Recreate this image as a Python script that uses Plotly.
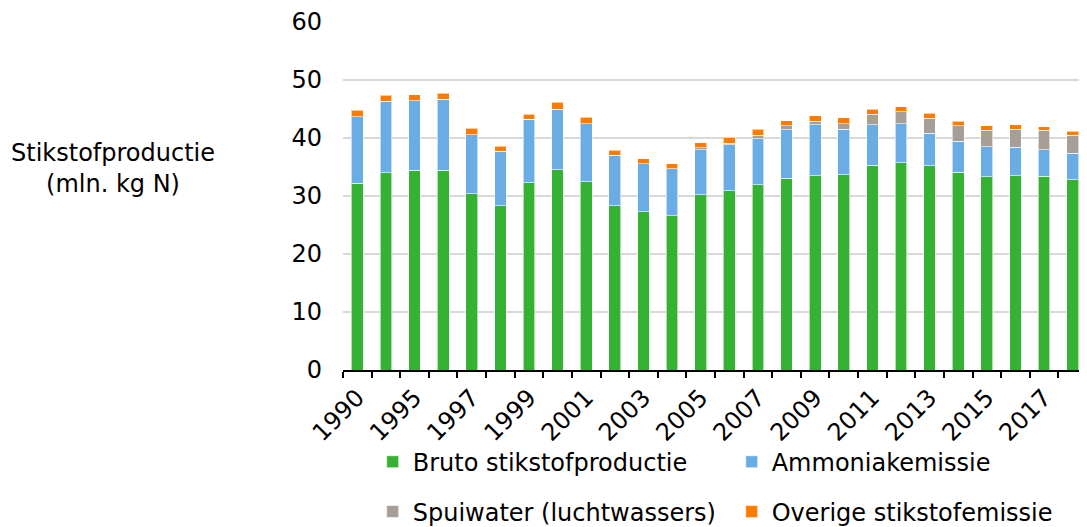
import plotly.graph_objects as go

years = ["1990", "1994", "1995", "1996", "1997", "1998", "1999", "2000", "2001", "2002",
         "2003", "2004", "2005", "2006", "2007", "2008", "2009", "2010", "2011", "2012",
         "2013", "2014", "2015", "2016", "2017", "2018"]
tick_labels = ["1990", "", "1995", "", "1997", "", "1999", "", "2001", "", "2003", "",
               "2005", "", "2007", "", "2009", "", "2011", "", "2013", "", "2015", "",
               "2017", ""]

bruto = [32.2, 34.0, 34.4, 34.4, 30.4, 28.3, 32.3, 34.5, 32.5, 28.3,
         27.3, 26.6, 30.2, 30.9, 31.9, 33.1, 33.5, 33.7, 35.3, 35.7,
         35.2, 34.1, 33.3, 33.5, 33.4, 32.8]
ammoniak = [11.5, 12.3, 12.0, 12.3, 10.2, 9.4, 10.9, 10.5, 10.0, 8.7,
            8.3, 8.1, 7.8, 7.9, 8.0, 8.3, 8.8, 7.8, 7.0, 6.8,
            5.6, 5.3, 5.2, 4.9, 4.6, 4.6]
spuiwater = [0, 0, 0, 0, 0, 0, 0, 0, 0, 0,
             0, 0, 0.3, 0.3, 0.6, 0.7, 0.6, 1.0, 1.8, 2.0,
             2.6, 2.7, 2.8, 3.1, 3.3, 3.1]
overig = [1.1, 1.1, 1.1, 1.0, 1.1, 0.9, 0.9, 1.2, 1.1, 0.9,
          0.8, 0.9, 0.9, 1.0, 1.0, 0.9, 0.9, 1.0, 0.9, 0.9,
          0.9, 0.8, 0.8, 0.8, 0.6, 0.7]

series = [
    ("Bruto stikstofproductie", bruto, "#35b234", "legend"),
    ("Ammoniakemissie", ammoniak, "#6aade4", "legend"),
    ("Spuiwater (luchtwassers)", spuiwater, "#a69e97", "legend2"),
    ("Overige stikstofemissie", overig, "#ff7b00", "legend2"),
]

FONT = "Verdana, DejaVu Sans, sans-serif"
FS = 24

fig = go.Figure()
for name, vals, color, lg in series:
    fig.add_trace(go.Bar(
        x=years, y=vals, name=name, legend=lg,
        marker=dict(color=color, line=dict(color="rgba(255,255,255,0.6)", width=1)),
    ))

legend_common = dict(orientation="h", xref="container", yref="container",
                     x=0.338, xanchor="left", yanchor="middle",
                     entrywidth=314, entrywidthmode="pixels",
                     bgcolor="rgba(0,0,0,0)",
                     font=dict(size=FS), itemwidth=30, traceorder="normal")

fig.update_layout(
    width=1079, height=519,
    barmode="stack",
    bargap=0.59,
    plot_bgcolor="white",
    paper_bgcolor="white",
    margin=dict(l=335, r=0, t=14, b=157, autoexpand=False),
    font=dict(family=FONT, size=FS, color="#000000"),
    legend=dict(y=0.125, **legend_common),
    legend2=dict(y=0.029, **legend_common),
    annotations=[dict(
        text="Stikstofproductie<br>(mln. kg N)",
        xref="paper", yref="paper", x=-0.309, y=0.58,
        xanchor="center", yanchor="middle", showarrow=False,
        font=dict(size=FS, family=FONT),
    )],
)

fig.update_xaxes(
    type="category",
    tickmode="array", tickvals=years, ticktext=tick_labels,
    tickangle=-45,
    tickson="boundaries",
    ticks="outside", ticklen=6, tickwidth=2, tickcolor="#000000",
    showline=True, linecolor="#000000", linewidth=2,
    showgrid=False, automargin=False,
    ticklabelstandoff=2,
    tickfont=dict(size=FS),
)
fig.update_yaxes(
    range=[0, 60], dtick=10,
    showgrid=True, gridcolor="#d9d9d9", gridwidth=2,
    zeroline=False, showline=False, automargin=False,
    ticks="", ticklabelstandoff=20,
    tickfont=dict(size=FS),
)

fig.write_html("out.html")
